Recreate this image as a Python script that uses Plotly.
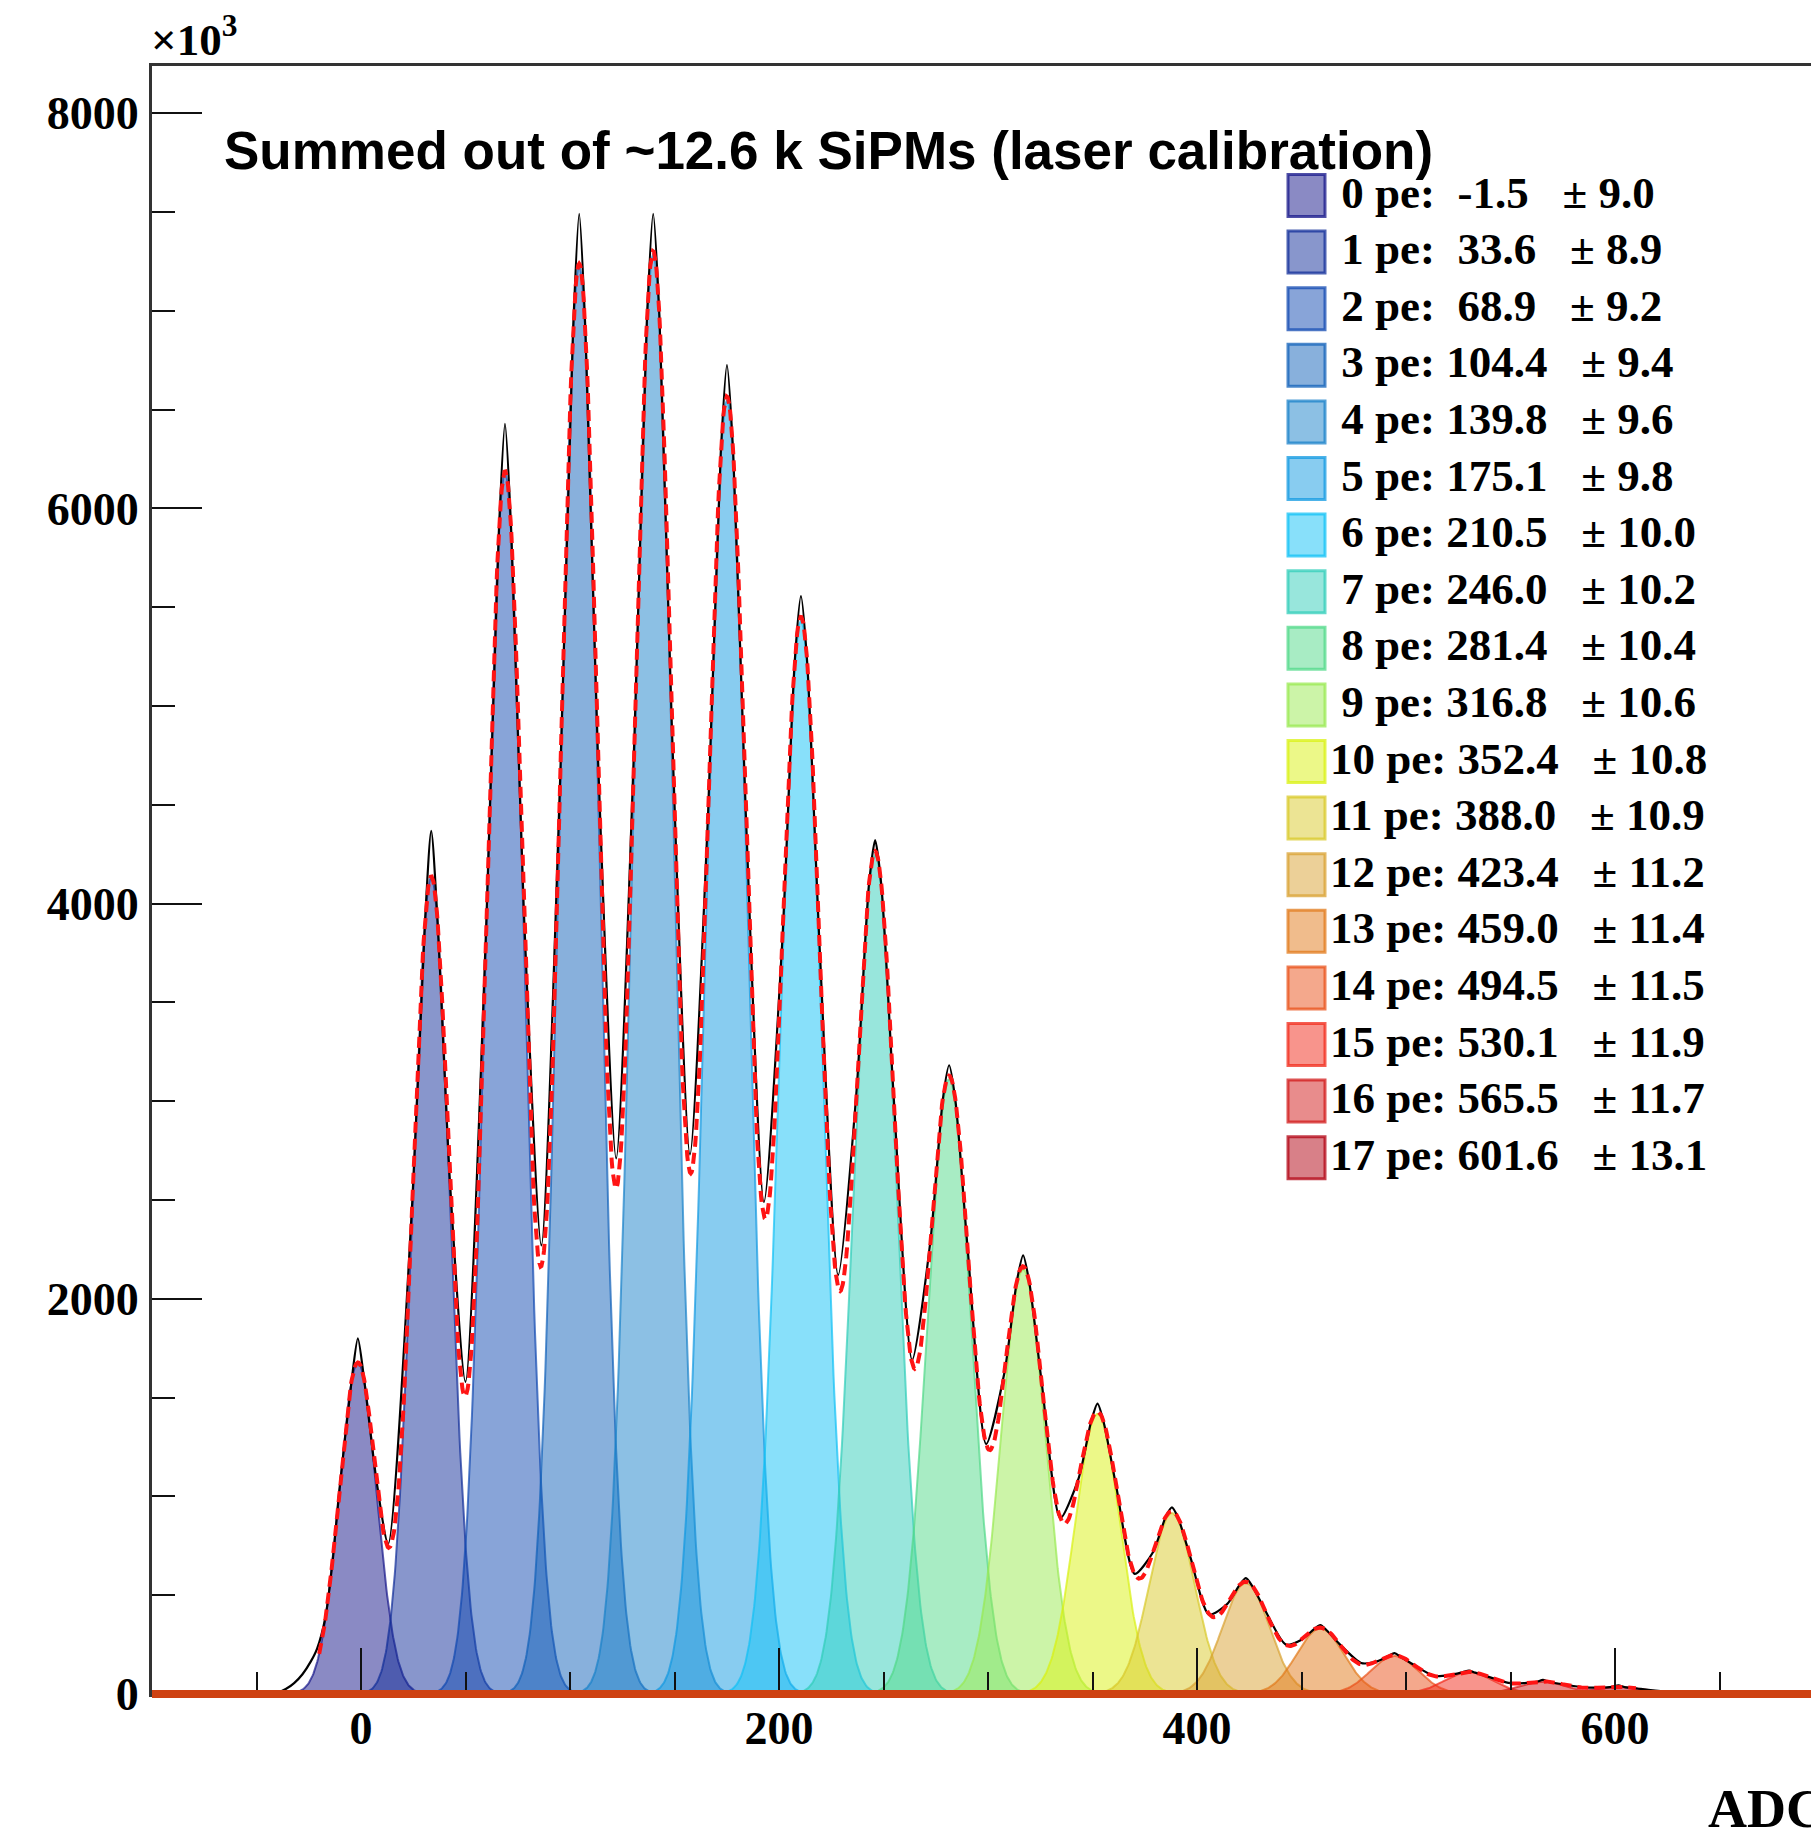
import numpy as np
import plotly.graph_objects as go

# ---------------- data ----------------
pe_number = list(range(18))
pe_mean = [-1.5, 33.6, 68.9, 104.4, 139.8, 175.1, 210.5, 246.0, 281.4,
           316.8, 352.4, 388.0, 423.4, 459.0, 494.5, 530.1, 565.5, 601.6]
pe_sigma = [9.0, 8.9, 9.2, 9.4, 9.6, 9.8, 10.0, 10.2, 10.4,
            10.6, 10.8, 10.9, 11.2, 11.4, 11.5, 11.9, 11.7, 13.1]
# peak height of each fitted component (counts, x10^3)
pe_amplitude = [1676, 4133, 6181, 7227, 7286, 6548, 5432, 4245, 3111,
                2149, 1417, 915, 561, 331, 192, 110, 62, 36]
pe_color = ["#151589", "#112d99", "#1149b1", "#1161b9", "#1981c9", "#1199e1",
            "#11c1f5", "#31cdb9", "#51d989", "#99e951", "#d9f111", "#d9c929",
            "#d9a131", "#e17919", "#e95119", "#f12919", "#d11919", "#b10111"]

# summed histogram (black line)
hist_adc = [-100, -60, -50, -44, -40, -36, -32, -28, -24, -21, -17, -13.5,
            -10.5, -4.5, -1.5, 1.5, 7.5, 13,
            24.6, 30.6, 33.6, 36.6, 42.6, 50,
            59.9, 65.9, 68.9, 71.9, 77.9, 86.3,
            95.4, 101.4, 104.4, 107.4, 113.4, 122.1,
            130.8, 136.8, 139.8, 142.8, 148.8, 157.4,
            166.1, 172.1, 175.1, 178.1, 184.1, 192.8,
            201.5, 207.5, 210.5, 213.5, 219.5, 228.3,
            237.0, 243.0, 246.0, 249.0, 255.0, 263.7,
            272.4, 278.4, 281.4, 284.4, 290.4, 299.1,
            307.8, 313.8, 316.8, 319.8, 325.8, 334.6,
            343.4, 349.4, 352.4, 355.4, 361.4, 370.2,
            379.0, 385.0, 388.0, 391.0, 397.0, 405.7,
            414.4, 420.4, 423.4, 426.4, 432.4, 442.5,
            450.0, 456.0, 459.0, 462.0, 468.0, 478.5,
            485.5, 491.5, 494.5, 497.5, 503.5, 513.5,
            521.1, 527.1, 530.1, 533.1, 539.1, 549.0,
            556.5, 562.5, 565.5, 568.5, 574.5, 584.0,
            592.6, 598.6, 601.6, 604.6, 610.6, 615, 625, 640, 655, 670, 697]
hist_counts = [0, 0, 0, 2, 8, 25, 55, 100, 165, 230, 390, 680,
               1017, 1585, 1800, 1591, 1073, 760,
               2505, 3905, 4368, 3918, 2584, 1580,
               3883, 5867, 6428, 5879, 3966, 2270,
               4668, 6881, 7491, 6893, 4736, 2710,
               4835, 6958, 7491, 6968, 4874, 2730,
               4466, 6273, 6725, 6277, 4462, 2490,
               3797, 5221, 5556, 5219, 3768, 2120,
               3038, 4093, 4321, 4089, 3000, 1690,
               2288, 3011, 3182, 3004, 2236, 1265,
               1623, 2089, 2220, 2080, 1567, 890,
               1093, 1382, 1470, 1373, 1048, 608,
               719, 896, 944, 890, 686, 402,
               455, 552, 586, 547, 428, 250,
               275, 328, 349, 323, 255, 157,
               163, 192, 207, 187, 149, 91,
               96, 110, 118, 108, 88, 56,
               55, 62, 71, 61, 50, 35,
               32, 36, 44, 35, 28, 22, 12, 5, 1, 0, 0]

fit_range = [-20, 610]
x_tick_values = [0, 200, 400, 600]
y_tick_values = [0, 2000, 4000, 6000, 8000]
title_text = "Summed out of ~12.6 k SiPMs (laser calibration)"
x_title = "ADC"
y_multiplier = "×10<sup>3</sup>"

# ---------------- geometry / style ----------------
OFF = 8                      # page body margin of the html page
W, H = 1819 - OFF, 1829 - OFF
ML, MR, MT, MB = 144, 0, 58, 135
X_RANGE = [-100, 697.6]
Y_RANGE = [0, 8239]
PW, PH = W - ML - MR, H - MT - MB

SERIF = "Liberation Serif, Times New Roman, serif"
SANS = "Liberation Sans, Arial, sans-serif"


def px_x(px):                # page pixel -> paper fraction
    return (px - OFF - ML) / PW


def px_y(py):
    return (H - MB - (py - OFF)) / PH


def rgba(hexcol, a):
    h = hexcol.lstrip("#")
    r, g, b = int(h[0:2], 16), int(h[2:4], 16), int(h[4:6], 16)
    return f"rgba({r},{g},{b},{a})"


def gauss(x, a, m, s):
    return a * np.exp(-0.5 * ((x - m) / s) ** 2)


fig = go.Figure()

# fitted components
for i, m, s, a, c in zip(pe_number, pe_mean, pe_sigma, pe_amplitude, pe_color):
    xs = np.linspace(m - 6 * s, m + 6 * s, 301)
    fig.add_trace(go.Scatter(
        x=xs, y=gauss(xs, a, m, s), mode="lines", fill="tozeroy",
        fillcolor=rgba(c, 0.5), line=dict(color=rgba(c, 0.7), width=2),
        name=f"{i} pe", showlegend=False, hoverinfo="skip"))

# data histogram
fig.add_trace(go.Scatter(
    x=hist_adc, y=hist_counts, mode="lines",
    line=dict(color="black", width=2.2, shape="spline", smoothing=0.7),
    showlegend=False, hoverinfo="skip"))

# total fit (sum of components)
xf = np.linspace(fit_range[0], fit_range[1], 1500)
yf = np.zeros_like(xf)
for m, s, a in zip(pe_mean, pe_sigma, pe_amplitude):
    yf += gauss(xf, a, m, s)
fig.add_trace(go.Scatter(
    x=xf, y=yf, mode="lines",
    line=dict(color="#ff1414", width=4, dash="11px,6px"),
    showlegend=False, hoverinfo="skip"))

# orange base line along y = 0 (paper referenced so it is not clipped)
fig.add_shape(type="line", xref="paper", yref="paper", x0=0, x1=1,
              y0=0, y1=0, line=dict(color="rgb(206,66,18)", width=8), layer="above")

tickfont = dict(family=SERIF, size=46, color="black", weight="bold")
fig.update_xaxes(
    range=X_RANGE, showgrid=False, zeroline=False,
    showline=True, linecolor="#333", linewidth=3, mirror=True,
    ticks="inside", ticklen=46, tickwidth=2, tickcolor="#111",
    tickvals=x_tick_values, tickfont=tickfont, ticklabelstandoff=-8,
    minor=dict(ticks="inside", ticklen=22, tickwidth=2, tickcolor="#111",
               dtick=50, tick0=0, showgrid=False))
fig.update_yaxes(
    range=Y_RANGE, showgrid=False, zeroline=False,
    showline=True, linecolor="#333", linewidth=3, mirror=False,
    ticks="inside", ticklen=50, tickwidth=2, tickcolor="#111",
    tickvals=y_tick_values, tickformat="d", tickfont=tickfont,
    ticklabelstandoff=1,
    minor=dict(ticks="inside", ticklen=23, tickwidth=2, tickcolor="#111",
               dtick=500, tick0=0, showgrid=False))

ann = []
# title
ann.append(dict(text=title_text, xref="paper", yref="paper",
                x=px_x(222), y=px_y(119), xanchor="left", yanchor="top",
                showarrow=False,
                font=dict(family=SANS, size=53, color="black", weight="bold")))
# x10^3
ann.append(dict(text=y_multiplier, xref="paper", yref="paper",
                x=px_x(149), y=px_y(67), xanchor="left", yanchor="bottom",
                showarrow=False,
                font=dict(family=SERIF, size=45, color="black", weight="bold")))
# ADC
ann.append(dict(text=x_title, xref="paper", yref="paper",
                x=px_x(1706), y=px_y(1777), xanchor="left", yanchor="top",
                showarrow=False,
                font=dict(family=SERIF, size=54, color="black", weight="bold")))

# legend (manual, ROOT style)
NB = "\u00a0"
for i, m, s, c in zip(pe_number, pe_mean, pe_sigma, pe_color):
    yc = 192.5 + 56.6 * i                  # page y of the text row
    label = f"{i:>2d} pe: {m:5.1f}   ± {s:.1f}".replace(" ", NB)
    ann.append(dict(text=label, xref="paper", yref="paper",
                    x=px_x(1328), y=px_y(yc), xanchor="left", yanchor="middle",
                    showarrow=False,
                    font=dict(family=SERIF, size=45, color="black", weight="bold")))
    fig.add_shape(type="rect", xref="paper", yref="paper",
                  x0=px_x(1288), x1=px_x(1325),
                  y0=px_y(yc + 3 - 21), y1=px_y(yc + 3 + 21),
                  fillcolor=rgba(c, 0.5), line=dict(color=rgba(c, 0.75), width=3),
                  layer="above")

fig.update_layout(
    width=W, height=H, autosize=False,
    margin=dict(l=ML, r=MR, t=MT, b=MB, pad=0),
    paper_bgcolor="white", plot_bgcolor="white",
    annotations=ann, showlegend=False)

fig.write_html("out.html")
